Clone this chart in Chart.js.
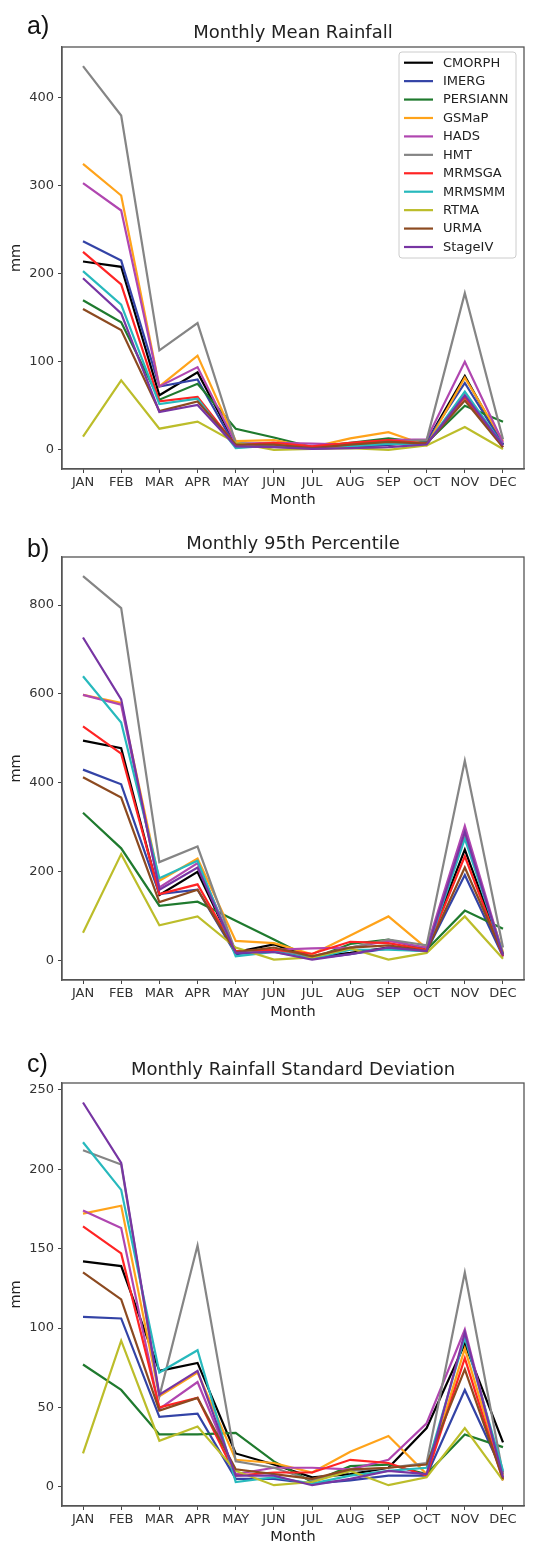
<!DOCTYPE html>
<html>
<head>
<meta charset="utf-8">
<script src="https://cdn.jsdelivr.net/npm/chart.js@4.4.1/dist/chart.umd.min.js"></script>
<style>
  html, body { margin: 0; padding: 0; background: #fff; }
  #wrap { position: relative; width: 556px; height: 1542px; overflow: hidden; }
  canvas { position: absolute; left: 0; }
  .tag { position: absolute; left: 27px; font-family: "Liberation Sans", Arial, sans-serif; font-size: 25px; line-height: 25px; color: #111; }
</style>
</head>
<body>
<div id="wrap">
  <canvas id="chartMean" width="556" height="515" style="top:0px"></canvas>
  <canvas id="chart95" width="556" height="515" style="top:515px"></canvas>
  <canvas id="chartStd" width="556" height="512" style="top:1030px"></canvas>
  <div class="tag" style="top:13px">a)</div>
  <div class="tag" style="top:536px">b)</div>
  <div class="tag" style="top:1051px">c)</div>
</div>
<script>
const months = ['JAN', 'FEB', 'MAR', 'APR', 'MAY', 'JUN', 'JUL', 'AUG', 'SEP', 'OCT', 'NOV', 'DEC'];
const seriesNames = ['CMORPH', 'IMERG', 'PERSIANN', 'GSMaP', 'HADS', 'HMT', 'MRMSGA', 'MRMSMM', 'RTMA', 'URMA', 'StageIV'];
const seriesColors = ['#000000', '#3343a6', '#1f7a2e', '#ffa31a', '#b046b0', '#858585', '#ff2424', '#27b9bd', '#bcbd2a', '#8c4a20', '#7735a3'];

// one row per product, same order as seriesNames (mm)
const meanRain = [
  [214, 208, 62, 88, 6, 5, 2, 4, 6, 9, 84, 6],
  [237, 215, 72, 80, 3, 4, 1, 3, 6, 10, 76, 6],
  [170, 145, 57, 75, 24, 14, 3, 8, 13, 8, 50, 32],
  [325, 289, 72, 107, 10, 11, 3, 13, 20, 5, 82, 10],
  [303, 272, 72, 94, 7, 8, 7, 6, 11, 12, 100, 8],
  [436, 380, 113, 144, 8, 5, 4, 5, 9, 11, 178, 12],
  [225, 188, 55, 60, 5, 8, 4, 8, 11, 7, 60, 3],
  [203, 165, 52, 58, 2, 5, 1, 4, 7, 6, 66, 5],
  [15, 79, 24, 32, 8, 0, 1, 2, 0, 5, 26, 1],
  [160, 136, 44, 55, 6, 6, 2, 6, 9, 7, 56, 3],
  [195, 155, 43, 51, 4, 3, 1, 2, 3, 6, 62, 5]
];
const p95Rain = [
  [495, 478, 148, 200, 20, 37, 8, 18, 30, 28, 250, 15],
  [430, 397, 150, 160, 15, 22, 5, 15, 28, 22, 193, 10],
  [333, 253, 124, 133, 90, 48, 5, 38, 48, 25, 113, 72],
  [598, 580, 180, 230, 45, 40, 15, 57, 100, 28, 280, 20],
  [598, 576, 165, 220, 20, 25, 28, 30, 45, 30, 303, 15],
  [865, 793, 222, 257, 20, 25, 10, 30, 48, 35, 450, 30],
  [527, 466, 150, 172, 22, 25, 16, 43, 40, 25, 235, 10],
  [640, 536, 186, 225, 10, 20, 5, 25, 25, 22, 275, 15],
  [63, 240, 80, 100, 30, 3, 8, 28, 3, 18, 100, 5],
  [413, 367, 132, 160, 20, 30, 10, 30, 35, 22, 210, 15],
  [727, 588, 160, 210, 18, 20, 3, 15, 30, 22, 290, 12]
];
const stdRain = [
  [142, 139, 73, 78, 21, 14, 6, 8, 12, 37, 90, 28],
  [107, 106, 44, 46, 5, 5, 2, 4, 7, 7, 61, 9],
  [77, 61, 33, 33, 34, 16, 3, 13, 14, 8, 33, 25],
  [172, 177, 57, 72, 17, 15, 9, 22, 32, 8, 87, 7],
  [174, 163, 49, 66, 8, 12, 12, 11, 17, 40, 99, 5],
  [212, 203, 57, 152, 16, 12, 4, 10, 12, 15, 135, 8],
  [164, 147, 50, 56, 7, 9, 9, 17, 15, 7, 81, 4],
  [217, 187, 72, 86, 3, 6, 2, 7, 10, 12, 94, 10],
  [21, 92, 29, 38, 10, 1, 3, 10, 1, 6, 37, 4],
  [135, 118, 48, 56, 11, 8, 5, 11, 12, 14, 74, 5],
  [242, 204, 58, 73, 7, 7, 1, 5, 10, 8, 97, 6]
];

const ticksMean = [0, 100, 200, 300, 400];
const ticks95 = [0, 200, 400, 600, 800];
const ticksStd = [0, 50, 100, 150, 200, 250];

const FONT = '"DejaVu Sans", Verdana, sans-serif';

// matplotlib-like box round the axes
const framePlugin = {
  id: 'frame',
  afterDraw(chart) {
    const { ctx, chartArea: a } = chart;
    ctx.save();
    ctx.strokeStyle = '#555';
    ctx.lineWidth = 1.3;
    ctx.strokeRect(a.left, a.top, a.right - a.left, a.bottom - a.top);
    ctx.restore();
  }
};

// title centred over the axes, not over the whole canvas
const axesTitle = {
  id: 'axesTitle',
  afterDraw(chart, args, opts) {
    const { ctx, chartArea: a } = chart;
    ctx.save();
    ctx.font = '18px ' + FONT;
    ctx.fillStyle = '#222';
    ctx.textAlign = 'center';
    ctx.textBaseline = 'middle';
    ctx.fillText(opts.text, (a.left + a.right) / 2, opts.y);
    ctx.restore();
  }
};

// legend in a box at the upper right of the axes
const boxLegend = {
  id: 'boxLegend',
  afterDraw(chart, args, opts) {
    if (!opts.show) return;
    const { ctx, chartArea: a } = chart;
    const sets = chart.data.datasets;
    const rowH = 18.43;
    const w = 117;
    const h = 10.7 + (sets.length - 1) * rowH + 11;
    const x0 = a.right - 8 - w;
    const y0 = a.top + 5;
    ctx.save();
    ctx.beginPath();
    ctx.roundRect(x0, y0, w, h, 3);
    ctx.fillStyle = 'rgba(255,255,255,0.85)';
    ctx.fill();
    ctx.strokeStyle = '#cccccc';
    ctx.lineWidth = 1;
    ctx.stroke();
    ctx.font = '13px ' + FONT;
    ctx.textBaseline = 'middle';
    ctx.textAlign = 'left';
    sets.forEach((ds, i) => {
      const y = y0 + 10.7 + i * rowH;
      ctx.beginPath();
      ctx.moveTo(x0 + 5, y);
      ctx.lineTo(x0 + 34, y);
      ctx.strokeStyle = ds.borderColor;
      ctx.lineWidth = 2.2;
      ctx.stroke();
      ctx.fillStyle = '#222';
      ctx.fillText(ds.label, x0 + 44, y + 0.5);
    });
    ctx.restore();
  }
};

function makeChart(p) {
  const canvas = document.getElementById(p.id);
  const monthPad = p.canvasH - 7.25 - p.monthCenter;
  return new Chart(canvas, {
    type: 'line',
    data: {
      datasets: seriesNames.map((name, i) => ({
        label: name,
        data: p.values[i].map((v, m) => ({ x: m, y: v })),
        borderColor: seriesColors[i],
        backgroundColor: seriesColors[i],
        borderWidth: 2.2,
        pointRadius: 0,
        tension: 0,
        fill: false,
        order: seriesNames.length - i
      }))
    },
    options: {
      responsive: false,
      animation: false,
      layout: { padding: { left: 0, right: 32, top: p.areaTop, bottom: 0 } },
      plugins: {
        legend: { display: false },
        tooltip: { enabled: false },
        title: { display: false },
        axesTitle: { text: p.title, y: p.titleCenter },
        boxLegend: { show: p.legend }
      },
      scales: {
        x: {
          type: 'linear',
          min: -0.55,
          max: 11.55,
          afterFit: s => { s.height = p.canvasH - p.areaBottom; },
          afterBuildTicks: s => { s.ticks = months.map((m, i) => ({ value: i })); },
          ticks: {
            callback: v => months[v],
            color: '#333',
            font: { family: FONT, size: 13 },
            padding: 2,
            maxRotation: 0,
            autoSkip: false
          },
          grid: { drawOnChartArea: false, drawTicks: true, tickLength: 4, color: '#444' },
          border: { display: true, color: '#555', width: 1.3 },
          title: {
            display: true,
            text: 'Month',
            color: '#222',
            font: { family: FONT, size: 14.5, lineHeight: 1 },
            padding: { top: 0, bottom: monthPad }
          }
        },
        y: {
          min: p.yMin,
          max: p.yMax,
          afterFit: s => { s.width = 62; },
          afterBuildTicks: s => { s.ticks = p.yTicks.map(v => ({ value: v })); },
          ticks: { color: '#333', font: { family: FONT, size: 13 }, padding: 4 },
          grid: { drawOnChartArea: false, drawTicks: true, tickLength: 4, color: '#444' },
          border: { display: true, color: '#555', width: 1.3 },
          title: {
            display: true,
            text: 'mm',
            color: '#222',
            font: { family: FONT, size: 14.5, lineHeight: 1.2 },
            padding: { top: 7.3, bottom: 0 }
          }
        }
      }
    },
    plugins: [framePlugin, axesTitle, boxLegend]
  });
}

makeChart({ id: 'chartMean', values: meanRain, title: 'Monthly Mean Rainfall', yTicks: ticksMean,
  yMin: -21.8, yMax: 457.8, canvasH: 515, areaTop: 47, areaBottom: 469, titleCenter: 33, monthCenter: 500, legend: true });
makeChart({ id: 'chart95', values: p95Rain, title: 'Monthly 95th Percentile', yTicks: ticks95,
  yMin: -43, yMax: 908, canvasH: 515, areaTop: 42, areaBottom: 465, titleCenter: 29, monthCenter: 497, legend: false });
makeChart({ id: 'chartStd', values: stdRain, title: 'Monthly Rainfall Standard Deviation', yTicks: ticksStd,
  yMin: -12.1, yMax: 254.3, canvasH: 512, areaTop: 53, areaBottom: 476, titleCenter: 40, monthCenter: 507, legend: false });
</script>
</body>
</html>
